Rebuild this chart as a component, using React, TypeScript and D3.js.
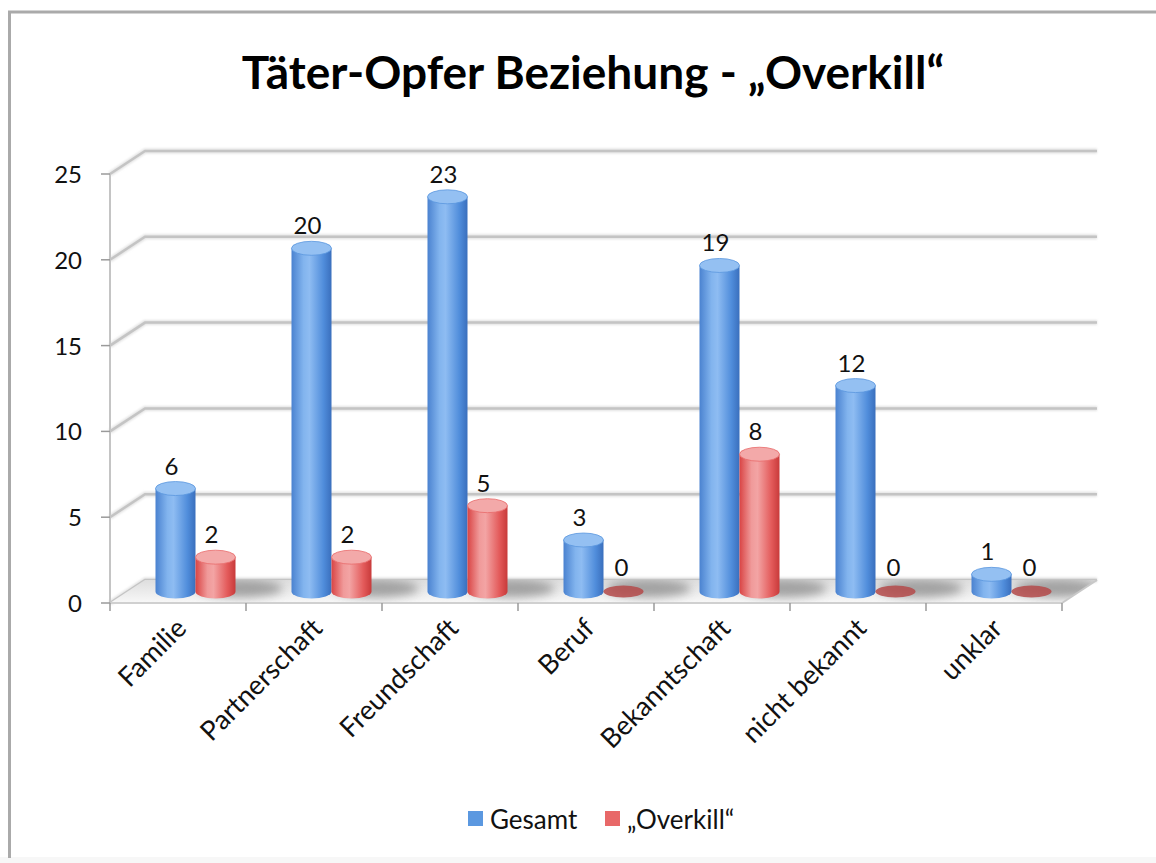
import React from "react";
import * as d3 from "d3";

const categories = ["Familie", "Partnerschaft", "Freundschaft", "Beruf", "Bekanntschaft", "nicht bekannt", "unklar"];
const gesamt = [6, 20, 23, 3, 19, 12, 1];
const overkill = [2, 2, 5, 0, 8, 0, 0];
const seriesNames = ["Gesamt", "„Overkill“"];
const yTicks = [0, 5, 10, 15, 20, 25];
const title = "Täter-Opfer Beziehung - „Overkill“";

const W = 1156;
const H = 863;
const FONT = "Lato, 'Open Sans', sans-serif";

export default function App() {
  const x = d3.scaleBand<string>().domain(categories).range([110, 1062]);
  const y = d3.scaleLinear().domain([0, 25]).range([603, 174]);
  const DX = 35;
  const DY = -23;
  const MX = DX / 2;
  const MY = DY / 2;
  const rx = 20;
  const ry = 7;
  const bw = x.bandwidth();

  const series = [
    { name: seriesNames[0], values: gesamt, grad: "gBlue", cap: "#94c0f2", zero: "#4c82cc", off: -20, sw: "#5a97de" },
    { name: seriesNames[1], values: overkill, grad: "gRed", cap: "#f3a9a9", zero: "#b44a4a", off: 20, sw: "#e86a6a" },
  ];

  const floor = `M${x.range()[0]},${y(0)} L${x.range()[1]},${y(0)} L${x.range()[1] + DX},${y(0) + DY} L${x.range()[0] + DX},${y(0) + DY} Z`;

  return (
    <svg width={W} height={H} style={{ position: "absolute", left: 0, top: 0, background: "#fff" }} fontFamily={FONT}>
      <defs>
        <linearGradient id="gBlue" x1="0" x2="1" y1="0" y2="0">
          <stop offset="0" stopColor="#4a82d0" />
          <stop offset="0.3" stopColor="#82b4ee" />
          <stop offset="0.45" stopColor="#8ebcf2" />
          <stop offset="0.8" stopColor="#508ddb" />
          <stop offset="1" stopColor="#3a6fbd" />
        </linearGradient>
        <linearGradient id="gRed" x1="0" x2="1" y1="0" y2="0">
          <stop offset="0" stopColor="#d94444" />
          <stop offset="0.3" stopColor="#f09a9a" />
          <stop offset="0.45" stopColor="#f3a4a4" />
          <stop offset="0.8" stopColor="#e35a5a" />
          <stop offset="1" stopColor="#c83a3a" />
        </linearGradient>
        <linearGradient id="gFloor" x1="0" x2="0" y1="0" y2="1">
          <stop offset="0" stopColor="#dedede" />
          <stop offset="1" stopColor="#f8f8f8" />
        </linearGradient>
        <filter id="blur" x="-50%" y="-50%" width="200%" height="200%">
          <feGaussianBlur stdDeviation="5" />
        </filter>
        <filter id="lblur" x="-10%" y="-100%" width="120%" height="300%">
          <feGaussianBlur stdDeviation="1" />
        </filter>
        <clipPath id="floorClip">
          <path d={floor} />
        </clipPath>
      </defs>

      {/* frame */}
      <rect x={0} y={857} width={W} height={6} fill="#f7f7f7" />
      <line x1={8} x2={W} y1={12} y2={12} stroke="#aaaaaa" strokeWidth={3} />
      <line x1={9.5} x2={9.5} y1={11} y2={858} stroke="#aaaaaa" strokeWidth={3} />

      {/* title */}
      <text x={593} y={89} textAnchor="middle" fontSize={46} fontWeight="bold" fill="#000">{title}</text>

      {/* grid lines (back wall + side wall) */}
      {yTicks.map((t) => (
        <g key={"g" + t}>
          <path
            d={`M${x.range()[0]},${y(t)} L${x.range()[0] + DX},${y(t) + DY} L${x.range()[1] + DX},${y(t) + DY}`}
            fill="none" stroke="#e2e2e2" strokeWidth={5} filter="url(#lblur)"
          />
          <path
            d={`M${x.range()[0]},${y(t)} L${x.range()[0] + DX},${y(t) + DY} L${x.range()[1] + DX},${y(t) + DY}`}
            fill="none" stroke="#c4c4c4" strokeWidth={2.5}
          />
        </g>
      ))}

      {/* floor */}
      <path d={floor} fill="url(#gFloor)" stroke="none" />
      <g clipPath="url(#floorClip)">
        {categories.map((c, i) => {
          const cx = (x(c) as number) + bw / 2 + MX;
          return (
            <ellipse key={"sh" + i} cx={cx + 45} cy={y(0) + MY - 3} rx={42} ry={9} fill="#8a8a8a" opacity={0.75} filter="url(#blur)" />
          );
        })}
      </g>
      <line x1={x.range()[0]} x2={x.range()[1]} y1={y(0)} y2={y(0)} stroke="#d0d0d0" strokeWidth={2} />
      <line x1={x.range()[1]} x2={x.range()[1] + DX} y1={y(0)} y2={y(0) + DY} stroke="#c8c8c8" strokeWidth={2} />

      {/* y axis */}
      <line x1={x.range()[0]} x2={x.range()[0]} y1={y(25)} y2={y(0)} stroke="#c4c4c4" strokeWidth={2} />
      {yTicks.map((t) => (
        <g key={"t" + t}>
          <line x1={101} x2={x.range()[0]} y1={y(t)} y2={y(t)} stroke="#9a9a9a" strokeWidth={1.5} />
          <text x={82} y={y(t) + 9} textAnchor="end" fontSize={24} fill="#111">{t}</text>
        </g>
      ))}

      {/* x ticks */}
      {categories.concat(["_end"]).map((c, i) => {
        const xx = x.range()[0] + bw * i;
        return <line key={"xt" + i} x1={xx} x2={xx} y1={y(0)} y2={y(0) + 8} stroke="#9a9a9a" strokeWidth={1.5} />;
      })}

      {/* bars */}
      {categories.map((c, i) => (
        <g key={"b" + i}>
          {series.map((s, si) => {
            const v = s.values[i];
            const cx = (x(c) as number) + bw / 2 + MX + s.off;
            const base = y(0) + MY;
            const top = y(v) + MY;
            if (v === 0) {
              return (
                <g key={si}>
                  <ellipse cx={cx} cy={base} rx={rx} ry={ry - 1} fill={s.zero} opacity={0.85} />
                  <text x={cx - 2} y={base - 16} textAnchor="middle" fontSize={24} fill="#111">{v}</text>
                </g>
              );
            }
            const body = `M${cx - rx},${top} L${cx - rx},${base} A${rx},${ry} 0 0 0 ${cx + rx},${base} L${cx + rx},${top} Z`;
            return (
              <g key={si}>
                <path d={body} fill={`url(#${s.grad})`} />
                <ellipse cx={cx} cy={top} rx={rx} ry={ry} fill={s.cap} stroke={s.sw} strokeWidth={0.8} />
                <text x={cx - 4} y={top - 14} textAnchor="middle" fontSize={24} fill="#111">{v}</text>
              </g>
            );
          })}
        </g>
      ))}

      {/* x labels */}
      {categories.map((c, i) => {
        const cx = (x(c) as number) + bw / 2 + 10;
        const cy = 630;
        return (
          <text key={"xl" + i} transform={`translate(${cx},${cy}) rotate(-45)`} textAnchor="end" fontSize={27} fill="#111">
            {c}
          </text>
        );
      })}

      {/* legend */}
      {series.map((s, si) => {
        const lx = si === 0 ? 468 : 605;
        return (
          <g key={"lg" + si}>
            <rect x={lx} y={811} width={15} height={15} fill={si === 0 ? "#5b98e0" : "#e86868"} />
            <text x={lx + 22} y={829} fontSize={26} fill="#111">{s.name}</text>
          </g>
        );
      })}
    </svg>
  );
}
